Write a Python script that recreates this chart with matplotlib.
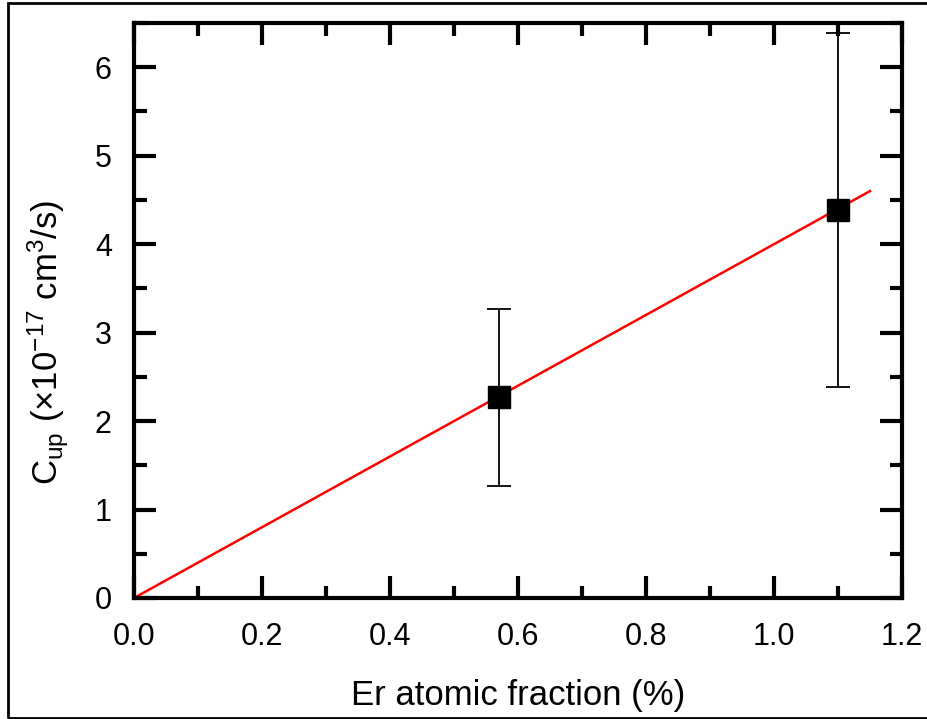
import numpy as np
import matplotlib.pyplot as plt
from matplotlib.patches import Rectangle
from matplotlib.ticker import MultipleLocator

plt.rcParams['font.family'] = ['Liberation Sans', 'DejaVu Sans']
plt.rcParams['mathtext.fontset'] = 'custom'
plt.rcParams['mathtext.rm'] = 'Liberation Sans'
plt.rcParams['mathtext.it'] = 'Liberation Sans'

# measured upconversion coefficients
er_fraction = [0.57, 1.10]
c_up = [2.27, 4.39]
c_up_err = [1.0, 2.0]

# linear fit through the origin
fit_slope = 4.0
fit_x_max = 1.15


def main():
    fig = plt.figure(figsize=(9.28, 7.19), dpi=100)
    ax = fig.add_axes([0.1444, 0.1683, 0.8276, 0.7997])

    fit_x = np.array([0.0, fit_x_max])
    ax.plot(fit_x, fit_slope * fit_x, color='red', lw=1.8, zorder=2)

    ax.errorbar(er_fraction, c_up, yerr=c_up_err, fmt='s', color='black',
                ms=15.5, mec='black', ecolor='black', elinewidth=1.3,
                capsize=8.5, capthick=1.3, zorder=3)

    ax.set_xlim(0, 1.2)
    ax.set_ylim(0, 6.5)
    ax.xaxis.set_major_locator(MultipleLocator(0.2))
    ax.xaxis.set_minor_locator(MultipleLocator(0.1))
    ax.yaxis.set_major_locator(MultipleLocator(1))
    ax.yaxis.set_minor_locator(MultipleLocator(0.5))
    ax.xaxis.set_major_formatter(plt.FormatStrFormatter('%.1f'))

    for s in ax.spines.values():
        s.set_linewidth(3)
    ax.tick_params(which='both', direction='in', top=True, right=True,
                   width=3, labelsize=22)
    ax.tick_params(which='major', length=16)
    ax.tick_params(which='minor', length=9)
    ax.tick_params(axis='x', which='major', pad=17)
    ax.tick_params(axis='y', which='major', pad=16)

    ax.set_xlabel('Er atomic fraction (%)', fontsize=25, labelpad=20)
    ax.set_ylabel(r'C$_{\mathrm{up}}$ ($\times$10$^{-17}$ cm$^3$/s)',
                  fontsize=25, labelpad=17)
    ax.yaxis.label.set_y(0.445)

    # frame around the whole figure
    fig.patches.append(Rectangle((8 / 928, 0.002), 1.0, 0.994,
                                 transform=fig.transFigure, fill=False,
                                 edgecolor='black', lw=2))

    fig.savefig('out.png', dpi=100)


if __name__ == '__main__':
    main()
